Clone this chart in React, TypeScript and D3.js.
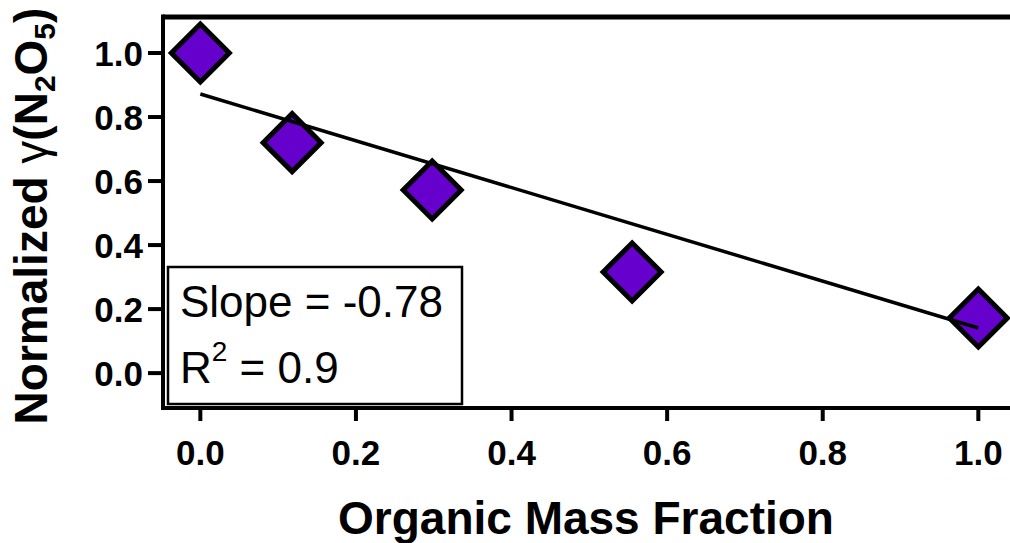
import React from "react";
import * as d3 from "d3";

const massFraction = [0, 0.118, 0.298, 0.555, 1.0];
const normGamma = [1.0, 0.72, 0.572, 0.316, 0.172];
const fitX = [0, 1];
const fitY = [0.872, 0.141];
const xTicks = [0, 0.2, 0.4, 0.6, 0.8, 1.0];
const yTicks = [0, 0.2, 0.4, 0.6, 0.8, 1.0];
const slopeText = "Slope = -0.78";
const r2Value = "0.9";

const W = 1010;
const H = 543;
const FONT = "'Liberation Sans', Arial, sans-serif";

export default function App() {
  const x = d3.scaleLinear().domain([-0.048, 1.042]).range([163, 1011]);
  const y = d3.scaleLinear().domain([-0.109, 1.1125]).range([408, 17]);
  const [x0, x1] = x.range();
  const [yb, yt] = y.range();
  const fmt = d3.format(".1f");
  const lineGen = d3
    .line<number>()
    .x((_, i) => x(fitX[i]))
    .y((d) => y(d));
  const r = 29;
  const diamond = (cx: number, cy: number) =>
    `M${cx},${cy - r}L${cx + r},${cy}L${cx},${cy + r}L${cx - r},${cy}Z`;

  return (
    <svg
      width={W}
      height={H}
      style={{ position: "absolute", left: 0, top: 0, background: "#fff" }}
      fontFamily={FONT}
    >
      <rect width={W} height={H} fill="#fff" />
      {/* frame */}
      <line x1={x0} x2={x1} y1={yt} y2={yt} stroke="#000" strokeWidth={5} />
      <line x1={x0} x2={x0} y1={yt - 2.5} y2={yb + 2} stroke="#000" strokeWidth={4} />
      <line x1={x0 - 2} x2={x1} y1={yb} y2={yb} stroke="#000" strokeWidth={4} />
      {/* y ticks */}
      {yTicks.map((t) => (
        <g key={"y" + t}>
          <line x1={x0 - 15} x2={x0} y1={y(t)} y2={y(t)} stroke="#000" strokeWidth={4} />
          <text
            x={x0 - 20}
            y={y(t) + 12.5}
            textAnchor="end"
            fontSize={35}
            fontWeight="bold"
          >
            {fmt(t)}
          </text>
        </g>
      ))}
      {/* x ticks */}
      {xTicks.map((t) => (
        <g key={"x" + t}>
          <line x1={x(t)} x2={x(t)} y1={yb} y2={yb + 13} stroke="#000" strokeWidth={4} />
          <text x={x(t)} y={465} textAnchor="middle" fontSize={35} fontWeight="bold">
            {fmt(t)}
          </text>
        </g>
      ))}
      {/* axis titles */}
      <text x={586} y={534} textAnchor="middle" fontSize={46} fontWeight="bold">
        Organic Mass Fraction
      </text>
      <text
        transform={`translate(47,216) rotate(-90)`}
        textAnchor="middle"
        fontSize={46}
        fontWeight="bold"
      >
        Normalized <tspan fontWeight="normal">γ</tspan>(N
        <tspan fontSize={30} dy={8}>2</tspan>
        <tspan dy={-8}>O</tspan>
        <tspan fontSize={30} dy={8}>5</tspan>
        <tspan dy={-8}>)</tspan>
      </text>
      {/* legend box */}
      <rect x={168} y={267} width={294} height={137} fill="#fff" stroke="#000" strokeWidth={2.5} />
      <text x={180} y={317} fontSize={44}>
        {slopeText}
      </text>
      <text x={180} y={383} fontSize={44}>
        R<tspan fontSize={28} dy={-22}>2</tspan>
        <tspan dy={22}>{" = " + r2Value}</tspan>
      </text>
      {/* points */}
      {massFraction.map((m, i) => (
        <path
          key={"p" + i}
          d={diamond(x(m), y(normGamma[i]))}
          fill="#6600cc"
          stroke="#000"
          strokeWidth={5}
          strokeLinejoin="miter"
        />
      ))}
      {/* fit line */}
      <path d={lineGen(fitY) || ""} fill="none" stroke="#000" strokeWidth={3.5} />
    </svg>
  );
}
